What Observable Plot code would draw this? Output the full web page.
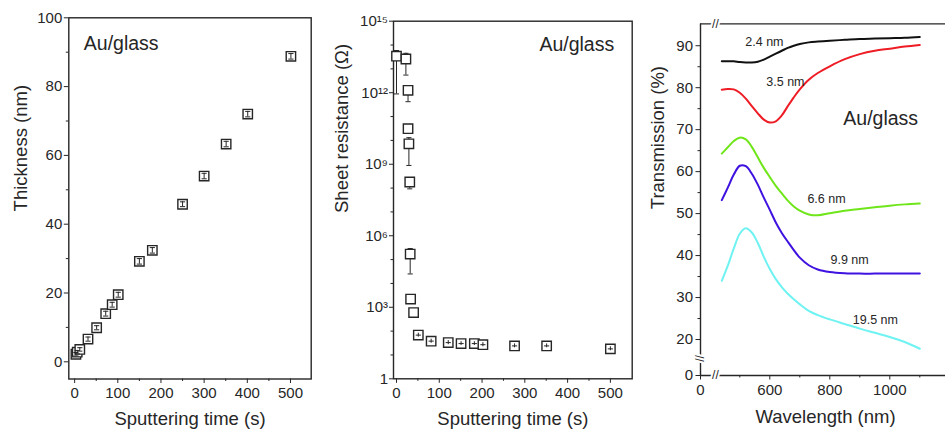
<!DOCTYPE html>
<html><head><meta charset="utf-8">
<script src="https://cdn.jsdelivr.net/npm/d3@7"></script>
<script src="https://cdn.jsdelivr.net/npm/@observablehq/plot@0.6"></script>
<style>
html,body{margin:0;padding:0;background:#fff;overflow:hidden}
#wrap{position:relative;width:945px;height:433px;overflow:hidden;background:#fff}
#wrap svg{position:absolute;top:0}
</style></head><body><div id="wrap"></div>
<script>
// ---------- Panel 1: thickness vs sputtering time ----------
const timeA = [3, 6, 12, 31, 51, 72, 87, 101, 150, 180, 250, 300, 351, 401, 501];
const thickness = [2.2, 2.8, 3.6, 6.6, 9.9, 14.0, 16.6, 19.5, 29.2, 32.4, 45.8, 54.0, 63.3, 72.0, 88.8];
const thicknessErr = [0.5, 0.5, 0.5, 0.6, 0.6, 0.7, 0.7, 0.7, 0.8, 0.8, 0.7, 0.8, 0.8, 0.8, 0.8];
const timeTicks = [0, 100, 200, 300, 400, 500];
const timeMinor = [50, 150, 250, 350, 450];
const thickTicks = [0, 20, 40, 60, 80, 100];
const thickMinor = [10, 30, 50, 70, 90];

// ---------- Panel 2: sheet resistance vs sputtering time ----------
const timeB = [0, 22, 27, 27, 29, 31, 32, 33, 40, 51, 81, 121, 151, 182, 202, 276, 351, 500];
const resistance = [3.4e13, 2.6e13, 1.26e12, 3.1e10, 7.2e9, 1.8e8, 1.7e5, 2200, 600, 68, 38, 33, 30, 30, 27, 24, 24, 18];
const resHigh = [5.9e13, 4.5e13, 1.6e12, 3.5e10, 1.3e10, 2.0e8, 2.9e5, 2800, 660, 82, 46, 40, 36, 36, 33, 29, 29, 22];
const resLow = [8.9e11, 5.5e12, 4.2e11, 2.5e10, 8.9e8, 9.3e7, 2.5e4, 2000, 550, 56, 31, 27, 25, 25, 22, 20, 20, 15];
const timeErrB = [0, 0, 0, 0, 0, 0, 0, 0, 0, 6, 6, 6, 6, 6, 6, 6, 6, 6];
const resTicks = [1, 1e3, 1e6, 1e9, 1e12, 1e15];
const resMinor = [1e1, 1e2, 1e4, 1e5, 1e7, 1e8, 1e10, 1e11, 1e13, 1e14];

// ---------- Panel 3: transmission spectra ----------
const wavelength = [440, 460, 480, 500, 520, 540, 560, 580, 600, 620, 640, 660, 680, 700, 730, 760, 800, 850, 900, 950, 1000, 1050, 1100];
const t24 = [86.3, 86.3, 86.3, 86.1, 86.0, 86.0, 86.2, 86.7, 87.4, 88.1, 88.8, 89.5, 90.0, 90.4, 90.8, 91.0, 91.2, 91.4, 91.6, 91.7, 91.8, 91.9, 92.1];
const t35 = [79.5, 79.7, 79.6, 78.8, 77.4, 75.6, 73.9, 72.4, 71.7, 72.0, 73.4, 75.6, 77.7, 79.6, 81.9, 83.5, 85.1, 86.8, 88.0, 88.8, 89.3, 89.8, 90.2];
const t66 = [64.3, 65.8, 67.3, 68.1, 67.7, 65.9, 63.4, 60.9, 58.7, 56.6, 54.8, 53.1, 51.7, 50.7, 49.8, 49.6, 50.1, 50.7, 51.1, 51.5, 51.9, 52.2, 52.4];
const t99 = [53.2, 56.2, 59.3, 61.4, 61.3, 59.5, 56.9, 53.8, 50.9, 47.9, 45.4, 43.3, 41.3, 39.5, 37.7, 36.7, 36.1, 35.8, 35.7, 35.7, 35.7, 35.7, 35.7];
const t195 = [34.0, 37.6, 41.7, 45.2, 46.5, 45.5, 43.0, 39.7, 36.8, 34.4, 32.5, 30.9, 29.6, 28.4, 26.8, 25.8, 24.8, 23.7, 22.6, 21.6, 20.6, 19.4, 17.8];
const seriesNames = ["2.4 nm", "3.5 nm", "6.6 nm", "9.9 nm", "19.5 nm"];
const seriesColors = ["#111111", "#ee1c24", "#6ee619", "#3f12e0", "#6ff2f2"];
const seriesValues = [t24, t35, t66, t99, t195];
const labelX = [582, 652, 789, 866, 952];
const labelY = [91, 81.3, 53.4, 38.9, 24.6];
const wlTicks = [0, 600, 800, 1000];
const wlMinor = [500, 700, 900, 1100];
const trTicks = [0, 20, 30, 40, 50, 60, 70, 80, 90];
const trMinor = [25, 35, 45, 55, 65, 75, 85];

const INK = "#262626";
const FONT = "'Liberation Sans', Arial, Helvetica, sans-serif";
const baseStyle = {fontFamily: FONT, fontSize: "15px", color: INK, background: "transparent", overflow: "visible"};
const blank = () => "";
const plain = d => String(d);
const wrap = document.getElementById("wrap");
function place(svg, left) { svg.style.left = left + "px"; wrap.appendChild(svg); }

// ---- Panel 1 ----
const d1 = timeA.map((t, i) => ({t, v: thickness[i], e: thicknessErr[i]}));
const cap1 = 6;
const p1 = Plot.plot({
  width: 320, height: 433,
  marginLeft: 68.3, marginRight: 9.3, marginTop: 17.3, marginBottom: 54.5,
  style: baseStyle,
  x: {domain: [-13.5, 548]},
  y: {domain: [-5, 100]},
  marks: [
    Plot.axisX({ticks: timeTicks, tickSize: 4.5, tickPadding: 4, tickFormat: plain, label: null, fontSize: 15}),
    Plot.axisX({ticks: timeMinor, tickSize: 2.5, tickFormat: blank, label: null}),
    Plot.axisY({ticks: thickTicks, tickSize: 4.5, tickPadding: 2, tickFormat: plain, label: null, fontSize: 15}),
    Plot.axisY({ticks: thickMinor, tickSize: 2.5, tickFormat: blank, label: null}),
    Plot.frame({stroke: INK, strokeWidth: 1.4}),
    Plot.dot(d1, {x: "t", y: "v", symbol: "square", r: 5.3, fill: "white", stroke: INK, strokeWidth: 1.4}),
    Plot.ruleX(d1, {x: "t", y1: d => d.v - d.e, y2: d => d.v + d.e, stroke: INK, strokeWidth: 1}),
    Plot.link(d1, {x1: d => d.t - cap1, x2: d => d.t + cap1, y1: d => d.v + d.e, y2: d => d.v + d.e, stroke: INK, strokeWidth: 1}),
    Plot.link(d1, {x1: d => d.t - cap1, x2: d => d.t + cap1, y1: d => d.v - d.e, y2: d => d.v - d.e, stroke: INK, strokeWidth: 1}),
    Plot.text(["Au/glass"], {frameAnchor: "top-left", dx: 15, dy: 26, fontSize: 19.5, textAnchor: "start", lineAnchor: "middle", fill: INK}),
    Plot.text(["Thickness (nm)"], {frameAnchor: "left", rotate: -90, dx: -48, dy: 13, fontSize: 18.5, fill: INK}),
    Plot.text(["Sputtering time (s)"], {frameAnchor: "bottom", dy: 40, fontSize: 18.5, lineAnchor: "middle", fill: INK})
  ]
});
place(p1, 0);

// ---- Panel 2 ----
const supMap = {"0": "\u2070", "1": "\u00b9", "2": "\u00b2", "3": "\u00b3", "4": "\u2074", "5": "\u2075", "6": "\u2076", "7": "\u2077", "8": "\u2078", "9": "\u2079"};
const powFmt = d => d === 1 ? "1" : "10" + String(Math.round(Math.log10(d))).split("").map(c => supMap[c]).join("");
const d2 = timeB.map((t, i) => ({t, v: resistance[i], hi: resHigh[i], lo: resLow[i], xe: timeErrB[i]}));
const outer = d2.filter(d => d.xe === 0);
const inner = d2.filter(d => d.xe > 0);
const cap2 = 6;
const p2 = Plot.plot({
  width: 320, height: 433,
  marginLeft: 73, marginRight: 8.3, marginTop: 20.7, marginBottom: 54.7,
  style: baseStyle,
  x: {domain: [-7, 551]},
  y: {type: "log", domain: [1, 1e15]},
  marks: [
    Plot.axisX({ticks: timeTicks, tickSize: 4.5, tickPadding: 4, tickFormat: plain, label: null, fontSize: 15}),
    Plot.axisX({ticks: timeMinor, tickSize: 2.5, tickFormat: blank, label: null}),
    Plot.axisY({ticks: resTicks, tickSize: 4, tickPadding: 1.5, tickFormat: powFmt, label: null, fontSize: 15}),
    Plot.axisY({ticks: resMinor, tickSize: 2.5, tickFormat: blank, label: null}),
    Plot.frame({stroke: INK, strokeWidth: 1.4}),
    Plot.ruleX(outer, {x: "t", y1: "lo", y2: "hi", stroke: INK, strokeWidth: 1}),
    Plot.link(outer, {x1: d => d.t - cap2, x2: d => d.t + cap2, y1: "hi", y2: "hi", stroke: INK, strokeWidth: 1}),
    Plot.link(outer, {x1: d => d.t - cap2, x2: d => d.t + cap2, y1: "lo", y2: "lo", stroke: INK, strokeWidth: 1}),
    Plot.dot(d2, {x: "t", y: "v", symbol: "square", r: 5.3, fill: "white", stroke: INK, strokeWidth: 1.4}),
    Plot.ruleX(inner, {x: "t", y1: "lo", y2: "hi", stroke: INK, strokeWidth: 1}),
    Plot.link(inner, {x1: d => d.t - d.xe, x2: d => d.t + d.xe, y1: "v", y2: "v", stroke: INK, strokeWidth: 1}),
    Plot.text(["Au/glass"], {frameAnchor: "top-right", dx: -18, dy: 24, fontSize: 19.5, textAnchor: "end", lineAnchor: "middle", fill: INK}),
    Plot.text(["Sheet resistance (\u03a9)"], {frameAnchor: "left", rotate: -90, dx: -51, dy: 13, fontSize: 18.5, fill: INK}),
    Plot.text(["Sputtering time (s)"], {frameAnchor: "bottom", dy: 40, fontSize: 18.5, lineAnchor: "middle", fill: INK})
  ]
});
place(p2, 320);

// ---- Panel 3 (broken axes via piecewise linear scales) ----
const spectra = seriesNames.flatMap((name, s) => wavelength.map((w, i) => ({name, w, T: seriesValues[s][i]})));
const labels = seriesNames.map((name, s) => ({name, x: labelX[s], y: labelY[s]}));
const yTop = 95.2;
const xBreak = [410];
const yBreak = [15.5];
const p3 = Plot.plot({
  width: 315, height: 433,
  marginLeft: 70, marginRight: 0, marginTop: 23.4, marginBottom: 58,
  style: baseStyle,
  x: {type: "linear", domain: [0, 420, 1186], range: [70, 85.3, 315.1]},
  y: {type: "linear", domain: [0, 14, yTop], range: [375, 364.2, 23.4]},
  color: {domain: seriesNames, range: seriesColors},
  marks: [
    Plot.axisX({ticks: wlTicks, tickSize: 4.5, tickPadding: 4, tickFormat: plain, label: null, fontSize: 15}),
    Plot.axisX({ticks: wlMinor, tickSize: 2.5, tickFormat: blank, label: null}),
    Plot.axisY({ticks: trTicks, tickSize: 4.5, tickPadding: 3, tickFormat: plain, label: null, fontSize: 15}),
    Plot.axisY({ticks: trMinor, tickSize: 2.5, tickFormat: blank, label: null}),
    Plot.ruleX([0], {y1: 0, y2: yTop, stroke: INK, strokeWidth: 1.4}),
    Plot.ruleY([0, yTop], {stroke: INK, strokeWidth: 1.4}),
    Plot.text(xBreak, {x: d => d, y: 0, text: () => "//", fontSize: 12, fill: INK, stroke: "white", strokeWidth: 4, paintOrder: "stroke"}),
    Plot.text(xBreak, {x: d => d, y: yTop, text: () => "//", fontSize: 12, fill: INK, stroke: "white", strokeWidth: 4, paintOrder: "stroke"}),
    Plot.text(yBreak, {x: 0, y: d => d, text: () => "//", rotate: -90, fontSize: 12, fill: INK, stroke: "white", strokeWidth: 4, paintOrder: "stroke"}),
    Plot.line(spectra, {x: "w", y: "T", z: "name", stroke: "name", strokeWidth: 2, curve: "catmull-rom"}),
    Plot.text(labels, {x: "x", y: "y", text: "name", fontSize: 12.5, fill: INK}),
    Plot.text(["Au/glass"], {x: 845, y: 72.7, fontSize: 19.5, textAnchor: "start", fill: INK}),
    Plot.text(["Transmission (%)"], {frameAnchor: "left", rotate: -90, dx: -42, dy: 9.5, fontSize: 18.5, fill: INK}),
    Plot.text(["Wavelength (nm)"], {frameAnchor: "bottom", dx: 2.5, dy: 42, fontSize: 18.5, lineAnchor: "middle", fill: INK})
  ]
});
place(p3, 630);
</script></body></html>
